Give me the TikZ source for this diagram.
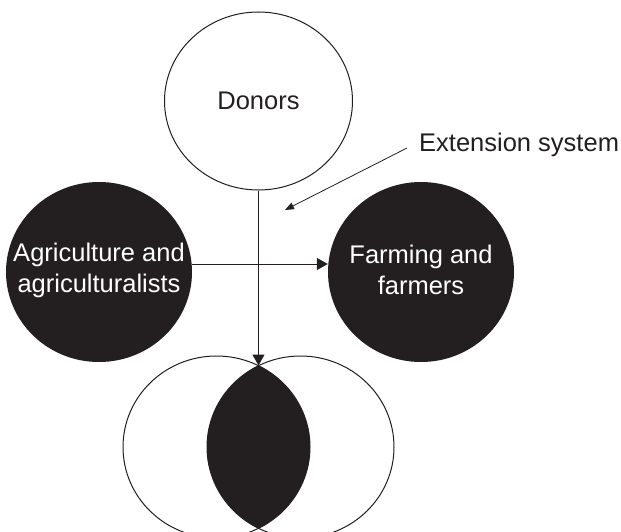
\documentclass[tikz,border=0pt]{standalone}
\usepackage{fontspec}
\setmainfont{Liberation Sans}
\usetikzlibrary{arrows.meta,shapes.geometric}
\definecolor{ink}{RGB}{35,31,32}
\begin{document}
\begin{tikzpicture}[x=1pt,y=-1pt,
  disc/.style={ellipse, draw=ink, line width=1pt, minimum width=188pt, minimum height=178pt, inner sep=0pt},
  blackdisc/.style={ellipse, fill=ink, minimum width=186pt, minimum height=180pt, inner sep=0pt},
  disctext/.style={align=center, inner sep=0pt, font=\fontsize{25.5}{31}\selectfont},
  link/.style={draw=ink, line width=1pt, -{Triangle[length=11pt,width=12pt]}},
  leader/.style={draw=ink, line width=0.8pt, -{Triangle[length=9pt,width=7pt]}}]
  % page frame
  \useasboundingbox (0,0) rectangle (621,532);
  \clip (0,0) rectangle (621,532);
  % Donors circle (top)
  \node[disc] (donors) at (258.5,101) {};
  \node[disctext, text=ink] at (donors) {Donors};
  % Black discs left and right
  \node[blackdisc] (agri) at (99,272) {};
  \node[disctext, text=white] at ([yshift=2pt]agri) {Agriculture and\\agriculturalists};
  \node[blackdisc] (farm) at (421,272) {};
  \node[disctext, text=white] at ([yshift=2pt]farm) {Farming and\\farmers};
  % Overlapping circles (bottom), lens filled
  \begin{scope}
    \clip (216.5,447) ellipse [x radius=93.5pt, y radius=91pt];
    \fill[ink] (300.5,447) ellipse [x radius=93.5pt, y radius=91pt];
  \end{scope}
  \draw[ink, line width=1pt] (216.5,447) ellipse [x radius=93.5pt, y radius=91pt];
  \draw[ink, line width=1pt] (300.5,447) ellipse [x radius=93.5pt, y radius=91pt];
  \coordinate (lenstop) at (258.5,365.5);
  % Arrows
  \draw[link] (donors.south) -- (lenstop);
  \draw[link] ([yshift=8pt]agri.east) -- ([yshift=8pt]farm.west);
  % Extension system label with leader
  \node[disctext, text=ink, anchor=base west] (ext) at (419,152) {Extension system};
  \coordinate (extstart) at (407,148);
  \coordinate (exttip) at (285,210);
  \draw[leader] (extstart) -- (exttip);
\end{tikzpicture}
\end{document}
